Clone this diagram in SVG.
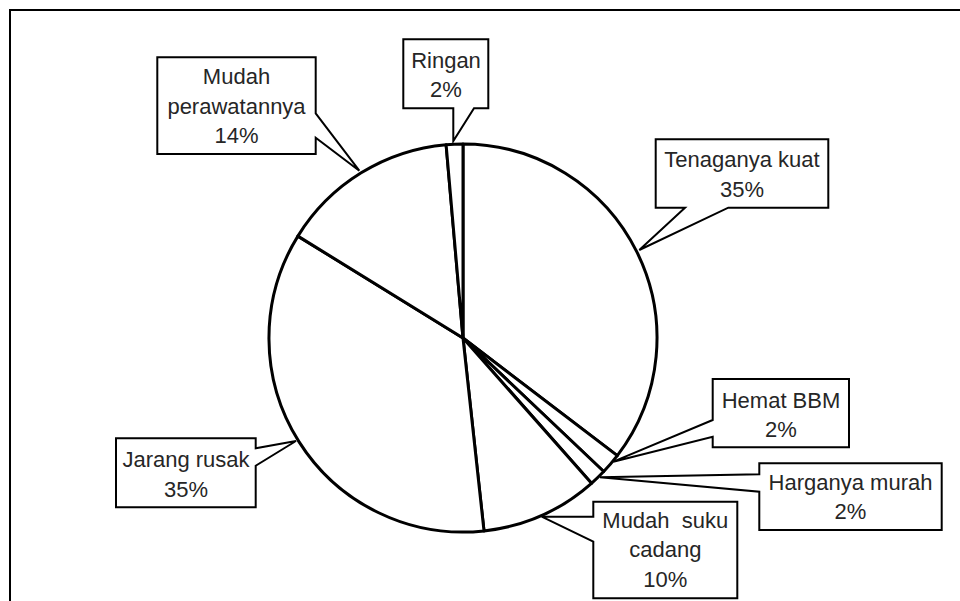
<svg xmlns="http://www.w3.org/2000/svg" width="960" height="601" viewBox="0 0 960 601">
<style>
.slice{fill:#fff;stroke:#000;stroke-width:3;stroke-linejoin:round}
.call{fill:#fff;stroke:#000;stroke-width:2;stroke-linejoin:miter}
.lbl{font-family:"Liberation Sans",Arial,sans-serif;font-size:22px;fill:#262626;text-anchor:middle}
.frame{fill:none;stroke:#000;stroke-width:2}
</style>
<rect x="0" y="0" width="960" height="601" fill="#fff"/>
<path class="frame" d="M10,601 V10 H960"/>
<g id="pie">
<g id="slice-tenaga"><path class="slice" d="M463,338 L463,144 A194,194 0 0 1 617.3,455.6 Z"/></g>
<g id="slice-hemat"><path class="slice" d="M463,338 L617.3,455.6 A194,194 0 0 1 603.7,471.5 Z"/></g>
<g id="slice-harga"><path class="slice" d="M463,338 L603.7,471.5 A194,194 0 0 1 591.5,483.3 Z"/></g>
<g id="slice-suku"><path class="slice" d="M463,338 L591.5,483.3 A194,194 0 0 1 484,530.9 Z"/></g>
<g id="slice-jarang"><path class="slice" d="M463,338 L484,530.9 A194,194 0 0 1 297.9,236.1 Z"/></g>
<g id="slice-perawatan"><path class="slice" d="M463,338 L297.9,236.1 A194,194 0 0 1 446.1,144.7 Z"/></g>
<g id="slice-ringan"><path class="slice" d="M463,338 L446.1,144.7 A194,194 0 0 1 463,144 Z"/></g>
</g>
<g id="connectors"></g>
<g id="callout-perawatan">
<path class="call" d="M157.3,57.3 H315.7 V113.3 L359.3,170.7 L315.7,137.7 V154 H157.3 Z"/>
<text class="lbl" x="236.5" y="84.3">Mudah</text>
<text class="lbl" x="236.5" y="114.3">perawatannya</text>
<text class="lbl" x="236.5" y="143.3">14%</text>
</g>
<g id="callout-ringan">
<path class="call" d="M403.3,39.3 H488.3 V108.3 H474 L453.3,141 V108.3 H403.3 Z"/>
<text class="lbl" x="446" y="68">Ringan</text>
<text class="lbl" x="446" y="97">2%</text>
</g>
<g id="callout-tenaga">
<path class="call" d="M655.7,139.3 H828.3 V207.7 H728.3 L639.3,250 L685,207.7 H655.7 Z"/>
<text class="lbl" x="742" y="166.7">Tenaganya kuat</text>
<text class="lbl" x="742" y="196.7">35%</text>
</g>
<g id="callout-hemat">
<path class="call" d="M712.7,379 H849 V447.3 H712.7 V436.7 L613.3,461.7 L712.7,420 Z"/>
<text class="lbl" x="781" y="407.7">Hemat BBM</text>
<text class="lbl" x="781" y="436.7">2%</text>
</g>
<g id="callout-harga">
<path class="call" d="M759.3,463.3 H941.7 V530 H759.3 V491.7 L600,477.3 L759.3,474.3 Z"/>
<text class="lbl" x="850.5" y="490">Harganya murah</text>
<text class="lbl" x="850.5" y="519.3">2%</text>
</g>
<g id="callout-suku">
<path class="call" d="M593.3,501.7 H737.3 V598.3 H593.3 V541.7 L541.7,516.7 L593.3,516.7 Z"/>
<text class="lbl" x="665.3" y="528.3" xml:space="preserve">Mudah  suku</text>
<text class="lbl" x="665.3" y="557">cadang</text>
<text class="lbl" x="665.3" y="586.7">10%</text>
</g>
<g id="callout-jarang">
<path class="call" d="M116,438.3 H255.7 V448.3 L296,441 L255.7,465.7 V507.3 H116 Z"/>
<text class="lbl" x="186" y="466.7">Jarang rusak</text>
<text class="lbl" x="186" y="496.7">35%</text>
</g>
</svg>
